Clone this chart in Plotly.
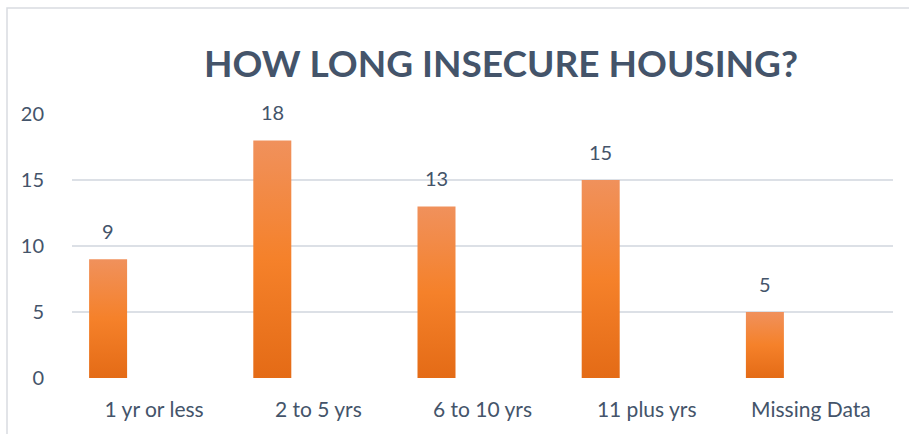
import plotly.graph_objects as go

categories = ["1 yr or less", "2 to 5 yrs", "6 to 10 yrs", "11 plus yrs", "Missing Data"]
values = [9, 18, 13, 15, 5]
y_ticks = [0, 5, 10, 15, 20]
title_text = "HOW LONG INSECURE HOUSING?"

W, H = 909, 434
L, R, T, B = 72, 16, 114, 56
pw = W - L - R
ph = H - T - B

FONT = "Lato"
TXT = "#44546A"
bar_w = 38 / (pw / len(categories))
bar_off = -65 / (pw / len(categories))

fig = go.Figure()
for i, (c, v) in enumerate(zip(categories, values)):
    x0 = i + bar_off
    x1 = x0 + bar_w
    fig.add_trace(go.Scatter(
        x=[x0, x0, x1, x1, x0], y=[0, v, v, 0, 0],
        mode="lines", line=dict(width=0, color="rgba(0,0,0,0)"),
        fill="toself",
        fillgradient=dict(type="vertical",
                          colorscale=[[0, "#E46B16"], [0.5, "#F5812A"], [1, "#F0915C"]]),
        hoverinfo="skip", showlegend=False, name=c,
    ))
    fig.add_annotation(x=(x0 + x1) / 2, y=v, text=str(v), showarrow=False,
                       yanchor="bottom", yshift=14,
                       font=dict(family=FONT, size=20, color=TXT))

fig.update_layout(
    width=W, height=H,
    margin=dict(l=L, r=R, t=T, b=B),
    paper_bgcolor="white", plot_bgcolor="white",
    showlegend=False,
    title=dict(text="<b>" + title_text + "</b>", xref="container", yref="container",
               x=501 / W, xanchor="center", y=(H - 64) / H, yanchor="middle",
               font=dict(family=FONT, size=37, color=TXT)),
    xaxis=dict(range=[-0.5, len(categories) - 0.5], tickmode="array",
               tickvals=list(range(len(categories))), ticktext=categories,
               showgrid=False, zeroline=False, showline=False,
               tickfont=dict(family=FONT, size=21, color=TXT),
               ticks="outside", ticklen=13, tickcolor="rgba(0,0,0,0)"),
    yaxis=dict(range=[0, 20], tickmode="array", tickvals=y_ticks,
               showgrid=True, gridcolor="#DCE0E6", gridwidth=1.5,
               zeroline=False, showline=False,
               tickfont=dict(family=FONT, size=20, color=TXT),
               ticks="outside", ticklen=23, tickcolor="rgba(0,0,0,0)"),
)

# chart-area border (top and left visible)
fig.add_shape(type="rect", xref="paper", yref="paper",
              x0=(7 - L) / pw, x1=(W + 5 - L) / pw,
              y0=(H - B - (H + 5)) / ph, y1=(H - B - 8) / ph,
              line=dict(color="#D9DCE1", width=1.5), fillcolor="rgba(0,0,0,0)", layer="below")

fig.write_html("out.html", config={"displayModeBar": False},
               post_script="document.body.style.margin='0';")
